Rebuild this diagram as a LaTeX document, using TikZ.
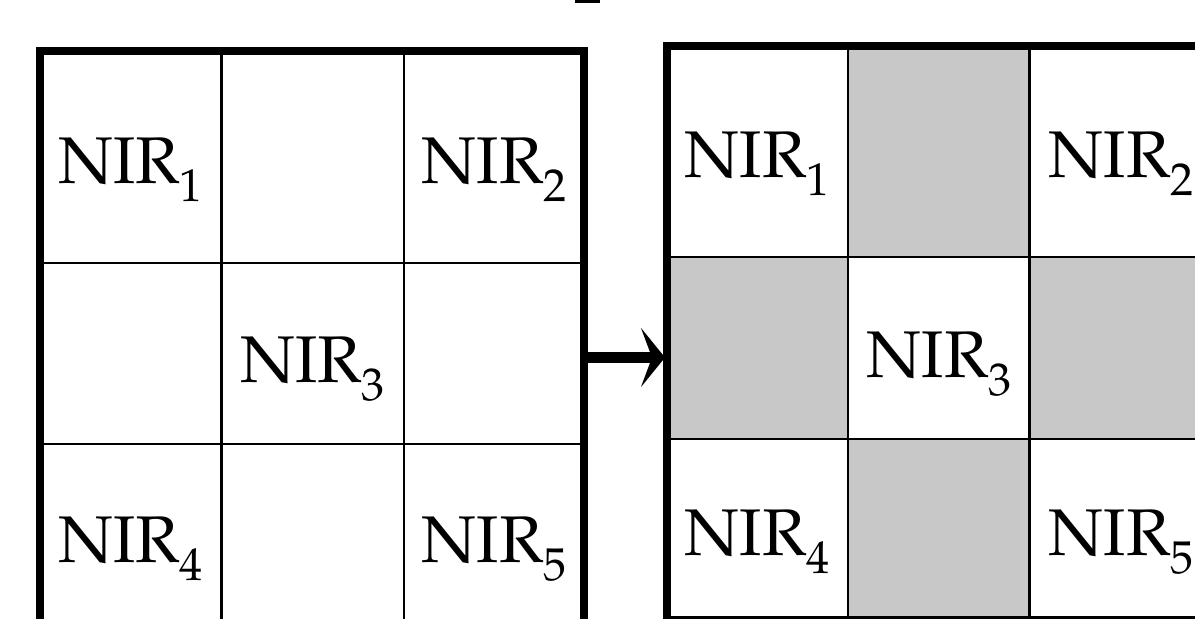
\documentclass[tikz,border=0pt]{standalone}
\usepackage[T1]{fontenc}
\usepackage{mathpazo}
\usetikzlibrary{arrows.meta}
\definecolor{cellgray}{RGB}{200,200,200}
\tikzset{
  thickline/.style={line width=4pt},
  thinline/.style={line width=1.4pt},
  lbl/.style={anchor=base, inner sep=0pt, font=\fontsize{33}{36}\selectfont},
  shadecell/.style={fill=cellgray},
  bigarrow/.style={line width=5.5pt, -{Stealth[length=12pt, width=29.5pt, inset=5.5pt]}},
}
\newcommand{\nirlab}[1]{NIR\raisebox{-9pt}{\fontsize{23}{24}\selectfont #1}}
\begin{document}
\begin{tikzpicture}[x=0.5pt,y=-0.5pt]
\useasboundingbox (0,0) rectangle (1195,619);
\begin{scope}
\clip (0,0) rectangle (1195,619);
% small mark at top
\fill (575,0) rectangle (600,3);
% right grid shading
\fill[shadecell] (848,46) rectangle (1030,257);
\fill[shadecell] (666,257) rectangle (848,439);
\fill[shadecell] (1030,257) rectangle (1212,439);
\fill[shadecell] (848,439) rectangle (1030,617.5);
% left grid thin lines
\draw[thinline] (221.5,51) -- (221.5,650);
\draw[thinline] (404,51) -- (404,650);
\draw[thinline] (40,263) -- (584,263);
\draw[thinline] (40,444) -- (584,444);
% left grid border
\draw[thickline] (40,650) -- (40,51) -- (584,51) -- (584,650);
% right grid thin lines
\draw[thinline] (848,46) -- (848,617.5);
\draw[thinline] (1029.5,46) -- (1029.5,617.5);
\draw[thinline] (666,257) -- (1212,257);
\draw[thinline] (666,439) -- (1212,439);
\draw[thinline] (666,617.5) -- (1212,617.5);
% right grid border
\draw[thickline] (666.5,650) -- (666.5,46) -- (1212,46) -- (1212,650);
\end{scope}
% arrow
\coordinate (leftedge) at (588,357.5);
\coordinate (rightedge) at (665,357.5);
\draw[bigarrow] (leftedge) -- (rightedge);
% labels left
\node[lbl] (l1) at (130.5,184) {\nirlab{1}};
\node[lbl] (l2) at (494,184) {\nirlab{2}};
\node[lbl] (l3) at (312.5,383) {\nirlab{3}};
\node[lbl] (l4) at (130.5,563) {\nirlab{4}};
\node[lbl] (l5) at (494,563) {\nirlab{5}};
% labels right
\node[lbl] (r1) at (757,178) {\nirlab{1}};
\node[lbl] (r2) at (1121,178) {\nirlab{2}};
\node[lbl] (r3) at (939,378) {\nirlab{3}};
\node[lbl] (r4) at (757,556) {\nirlab{4}};
\node[lbl] (r5) at (1121,556) {\nirlab{5}};
\end{tikzpicture}
\end{document}
